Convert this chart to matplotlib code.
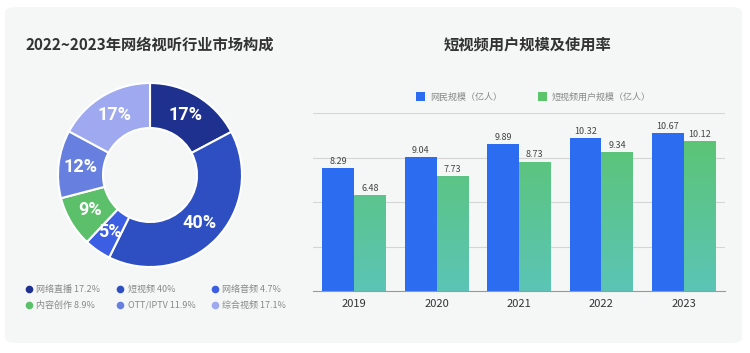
import numpy as np
import matplotlib
matplotlib.use('Agg')
from matplotlib import pyplot as plt
from matplotlib.patches import FancyBboxPatch, Patch
from matplotlib.lines import Line2D
from matplotlib.colors import LinearSegmentedColormap

plt.rcParams['font.family'] = ['Noto Sans CJK SC', 'DejaVu Sans']

# donut data
segments = ['网络直播', '短视频', '网络音频', '内容创作', 'OTT/IPTV', '综合视频']
shares = [17.2, 40, 4.7, 8.9, 11.9, 17.1]
seg_colors = ['#1f318f', '#2e4fc2', '#3c5ee3', '#5cbf6a', '#6780e0', '#9ea9ef']

# bar data
years = ['2019', '2020', '2021', '2022', '2023']
netizens = [8.29, 9.04, 9.89, 10.32, 10.67]
short_video_users = [6.48, 7.73, 8.73, 9.34, 10.12]

W, H = 750, 353
fig = plt.figure(figsize=(W / 100, H / 100), dpi=100)
fig.patch.set_facecolor('white')

# panel background
fig.patches.append(FancyBboxPatch((5 / W, 10 / H), 737 / W, 336 / H,
                                  boxstyle='round,pad=0,rounding_size=0.015',
                                  transform=fig.transFigure, facecolor='#f5f7f7',
                                  edgecolor='none', zorder=-5))

fig.text(150 / W, 1 - 45 / H, '2022~2023年网络视听行业市场构成', ha='center', va='center',
         fontsize=11, fontweight='bold', color='#333333')
fig.text(527 / W, 1 - 45 / H, '短视频用户规模及使用率', ha='center', va='center',
         fontsize=11, fontweight='bold', color='#333333')

# ---- donut ----
ax_pie = fig.add_axes([(150 - 100) / W, (H - 175 - 100) / H, 200 / W, 200 / H])
ax_pie.set_aspect('equal')
wedges, _ = ax_pie.pie(shares, colors=seg_colors, startangle=90, counterclock=False,
                       radius=0.92, wedgeprops=dict(width=0.45, edgecolor='white', linewidth=1.5))
for w, s in zip(wedges, shares):
    ang = np.deg2rad((w.theta1 + w.theta2) / 2)
    r = 0.92 - 0.45 / 2
    ax_pie.text(r * np.cos(ang), r * np.sin(ang), f'{round(s)}%', ha='center', va='center',
                color='white', fontsize=13, fontweight='bold', family=['Roboto', 'DejaVu Sans'])
ax_pie.set_xlim(-1, 1)
ax_pie.set_ylim(-1, 1)
ax_pie.axis('off')

order = [0, 3, 1, 4, 2, 5]
pie_handles = [Line2D([], [], marker='o', linestyle='none', markersize=5.5,
                      markerfacecolor=seg_colors[i], markeredgecolor='none') for i in order]
pie_labels = [f'{segments[i]} {shares[i]:g}%' for i in order]
fig.legend(pie_handles, pie_labels, ncol=3, loc='center', bbox_to_anchor=(155 / W, 1 - 297.5 / H),
           frameon=False, fontsize=6.5, labelcolor='#888888', handletextpad=0.2,
           columnspacing=1.6, labelspacing=0.75, handlelength=1.2)

# ---- bars ----
ax = fig.add_axes([313 / W, 62 / H, 412 / W, 178 / H])
ax.set_facecolor('none')
x = np.arange(len(years))
bw = 0.385
b1 = ax.bar(x - bw / 2, netizens, bw, color='#2b6cf0', zorder=2)
b2 = ax.bar(x + bw / 2, short_video_users, bw, color='none', zorder=2)

green_cmap = LinearSegmentedColormap.from_list('g', ['#5bc5b6', '#5cc46a'])
grad = np.linspace(0, 1, 256).reshape(-1, 1)
for bar in b2:
    x0, w, h = bar.get_x(), bar.get_width(), bar.get_height()
    im = ax.imshow(grad, cmap=green_cmap, origin='lower', aspect='auto',
                   extent=(x0, x0 + w, 0, 12), zorder=2)
    im.set_clip_path(bar)

for bar, v in zip(b1, netizens):
    ax.text(bar.get_x() + bar.get_width() / 2, v + 0.15, f'{v:.2f}', ha='center', va='bottom',
            fontsize=6.5, color='#444444')
for bar, v in zip(b2, short_video_users):
    ax.text(bar.get_x() + bar.get_width() / 2, v + 0.15, f'{v:.2f}', ha='center', va='bottom',
            fontsize=6.5, color='#444444')

ax.set_xlim(-0.5, len(years) - 0.5)
ax.set_ylim(0, 12)
ax.set_yticks([3, 6, 9, 12])
ax.yaxis.grid(True, color='#d5d5d5', linewidth=0.8, zorder=0)
ax.set_axisbelow(True)
ax.tick_params(axis='y', left=False, labelleft=False)
ax.set_xticks(x)
ax.set_xticklabels(years)
ax.tick_params(axis='x', length=0, labelsize=8, labelcolor='#333333', pad=6)
for side in ['top', 'right', 'left']:
    ax.spines[side].set_visible(False)
ax.spines['bottom'].set_color('#999999')

bar_handles = [Patch(facecolor='#2b6cf0'), Patch(facecolor='#5cc46a')]
ax.legend(bar_handles, ['网民规模（亿人）', '短视频用户规模（亿人）'], loc='center',
          bbox_to_anchor=(0.535, (291 - 97) / 178), ncol=2, frameon=False, fontsize=6.5,
          labelcolor='#888888', handlelength=1.0, handleheight=1.0, handletextpad=0.5,
          columnspacing=4)

fig.savefig('out.png', dpi=100, facecolor='white')
